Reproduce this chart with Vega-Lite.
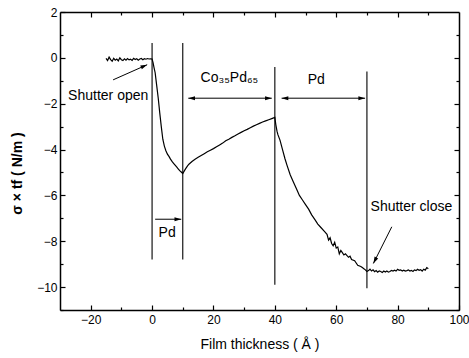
{
  "$schema": "https://vega.github.io/schema/vega-lite/v6.json",
  "width": 399,
  "height": 298,
  "autosize": "none",
  "padding": {"left": 60, "top": 12, "right": 10, "bottom": 48},
  "background": "white",
  "config": {
    "view": {"stroke": null},
    "font": "Liberation Sans",
    "axis": {
      "grid": false,
      "domainColor": "black",
      "domainWidth": 1.5,
      "tickColor": "black",
      "tickWidth": 1.2,
      "labelColor": "black",
      "titleColor": "black",
      "labelFont": "Liberation Sans",
      "titleFont": "Liberation Sans",
      "labelFontSize": 12,
      "titleFontSize": 14,
      "titleFontWeight": "normal",
      "labelFlush": false,
      "labelOverlap": false,
      "labelBound": false
    }
  },
  "datasets": {
    "curve": [
      {"x": -15, "y": -0.02}, {"x": -14.5, "y": -0.12}, {"x": -14, "y": 0.03}, {"x": -13.5, "y": -0.08},
      {"x": -13, "y": -0.15}, {"x": -12.5, "y": -0.02}, {"x": -12, "y": -0.1}, {"x": -11.5, "y": -0.05},
      {"x": -11, "y": -0.13}, {"x": -10.5, "y": 0.0}, {"x": -10, "y": -0.08}, {"x": -9.5, "y": -0.12},
      {"x": -9, "y": -0.04}, {"x": -8.5, "y": -0.1}, {"x": -8, "y": -0.03}, {"x": -7.5, "y": -0.09},
      {"x": -7, "y": -0.06}, {"x": -6.5, "y": -0.11}, {"x": -6, "y": -0.02}, {"x": -5.5, "y": -0.07},
      {"x": -5, "y": -0.04}, {"x": -4.5, "y": -0.1}, {"x": -4, "y": -0.05}, {"x": -3.5, "y": -0.03},
      {"x": -3, "y": -0.08}, {"x": -2.5, "y": -0.04}, {"x": -2, "y": -0.06}, {"x": -1.5, "y": -0.03},
      {"x": -1, "y": -0.05}, {"x": -0.5, "y": -0.04}, {"x": 0, "y": -0.05},
      {"x": 0.3, "y": -0.2}, {"x": 0.6, "y": -0.4}, {"x": 1, "y": -0.65}, {"x": 1.5, "y": -1.2},
      {"x": 2, "y": -1.75}, {"x": 2.5, "y": -2.4}, {"x": 3, "y": -3.0}, {"x": 3.5, "y": -3.55},
      {"x": 4, "y": -3.85}, {"x": 4.5, "y": -4.05}, {"x": 5, "y": -4.2}, {"x": 5.5, "y": -4.3},
      {"x": 6, "y": -4.42}, {"x": 6.5, "y": -4.52}, {"x": 7, "y": -4.6}, {"x": 7.5, "y": -4.68},
      {"x": 8, "y": -4.76}, {"x": 8.5, "y": -4.84}, {"x": 9, "y": -4.92}, {"x": 9.5, "y": -4.98},
      {"x": 10, "y": -5.05}, {"x": 10.5, "y": -4.93}, {"x": 11, "y": -4.82}, {"x": 11.5, "y": -4.72},
      {"x": 12, "y": -4.64}, {"x": 13, "y": -4.52}, {"x": 14, "y": -4.42}, {"x": 15, "y": -4.34},
      {"x": 16, "y": -4.26}, {"x": 17, "y": -4.18}, {"x": 18, "y": -4.1}, {"x": 19, "y": -4.03},
      {"x": 20, "y": -3.96}, {"x": 21, "y": -3.88}, {"x": 22, "y": -3.8}, {"x": 23, "y": -3.72},
      {"x": 24, "y": -3.62}, {"x": 25, "y": -3.55}, {"x": 26, "y": -3.47}, {"x": 27, "y": -3.4},
      {"x": 28, "y": -3.32}, {"x": 29, "y": -3.25}, {"x": 30, "y": -3.18}, {"x": 31, "y": -3.12},
      {"x": 32, "y": -3.05}, {"x": 33, "y": -2.98}, {"x": 34, "y": -2.92}, {"x": 35, "y": -2.86},
      {"x": 36, "y": -2.8}, {"x": 37, "y": -2.75}, {"x": 38, "y": -2.7}, {"x": 39, "y": -2.65},
      {"x": 40, "y": -2.6}, {"x": 40.3, "y": -2.9}, {"x": 40.7, "y": -3.2}, {"x": 41, "y": -3.35},
      {"x": 41.7, "y": -3.6}, {"x": 42.5, "y": -4.0}, {"x": 43.3, "y": -4.4}, {"x": 44, "y": -4.7},
      {"x": 45, "y": -5.1}, {"x": 46, "y": -5.4}, {"x": 47, "y": -5.7}, {"x": 48, "y": -6.0},
      {"x": 49, "y": -6.2}, {"x": 50, "y": -6.4}, {"x": 51, "y": -6.6}, {"x": 52, "y": -6.85},
      {"x": 53, "y": -7.05}, {"x": 54, "y": -7.25}, {"x": 55, "y": -7.4}, {"x": 56, "y": -7.55},
      {"x": 57, "y": -7.7}, {"x": 57.5, "y": -7.95}, {"x": 58, "y": -7.85}, {"x": 58.5, "y": -8.1},
      {"x": 59, "y": -8.2}, {"x": 59.5, "y": -8.05}, {"x": 60, "y": -8.3}, {"x": 60.5, "y": -8.25},
      {"x": 61, "y": -8.55}, {"x": 61.5, "y": -8.4}, {"x": 62, "y": -8.5}, {"x": 62.5, "y": -8.6},
      {"x": 63, "y": -8.55}, {"x": 64, "y": -8.7}, {"x": 64.5, "y": -8.65}, {"x": 65, "y": -8.8},
      {"x": 66, "y": -8.85}, {"x": 66.5, "y": -8.95}, {"x": 67, "y": -9.05}, {"x": 68, "y": -9.1},
      {"x": 68.5, "y": -9.15}, {"x": 69, "y": -9.2}, {"x": 69.5, "y": -9.25}, {"x": 70, "y": -9.32},
      {"x": 70.5, "y": -9.28}, {"x": 71, "y": -9.22}, {"x": 71.5, "y": -9.3}, {"x": 72, "y": -9.25},
      {"x": 72.5, "y": -9.33}, {"x": 73, "y": -9.28}, {"x": 73.5, "y": -9.35}, {"x": 74, "y": -9.3},
      {"x": 74.5, "y": -9.32}, {"x": 75, "y": -9.36}, {"x": 75.5, "y": -9.3}, {"x": 76, "y": -9.34},
      {"x": 76.5, "y": -9.3}, {"x": 77, "y": -9.35}, {"x": 77.5, "y": -9.32}, {"x": 78, "y": -9.27},
      {"x": 78.5, "y": -9.3}, {"x": 79, "y": -9.26}, {"x": 79.5, "y": -9.3}, {"x": 80, "y": -9.22},
      {"x": 80.5, "y": -9.27}, {"x": 81, "y": -9.25}, {"x": 81.5, "y": -9.3}, {"x": 82, "y": -9.26},
      {"x": 82.5, "y": -9.3}, {"x": 83, "y": -9.28}, {"x": 83.5, "y": -9.25}, {"x": 84, "y": -9.3},
      {"x": 84.5, "y": -9.27}, {"x": 85, "y": -9.32}, {"x": 85.5, "y": -9.25}, {"x": 86, "y": -9.28},
      {"x": 86.5, "y": -9.22}, {"x": 87, "y": -9.27}, {"x": 87.5, "y": -9.24}, {"x": 88, "y": -9.3},
      {"x": 88.5, "y": -9.22}, {"x": 89, "y": -9.26}, {"x": 89.5, "y": -9.15}, {"x": 90, "y": -9.2}
    ],
    "vlines": [
      {"x": 0, "top": 0.65, "bottom": -8.8},
      {"x": 10, "top": 0.65, "bottom": -8.8},
      {"x": 40, "top": -0.4, "bottom": -9.9},
      {"x": 70, "top": -0.6, "bottom": -10.05}
    ],
    "hArrows": [
      {"x1": 11.8, "x2": 39, "y": -1.76, "both": true},
      {"x1": 42.2, "x2": 69.4, "y": -1.76, "both": true},
      {"x1": 1, "x2": 9.5, "y": -7.04, "both": false}
    ],
    "dArrows": [
      {"name": "open", "x1": -12.7, "y1": -0.96, "x2": -1.6, "y2": -0.3},
      {"name": "close", "x1": 78.1, "y1": -7.37, "x2": 72.1, "y2": -8.97}
    ],
    "labels": [
      {"label": "Shutter open", "x": -14.3, "y": -1.66},
      {"label": "Shutter close", "x": 84.5, "y": -6.5},
      {"label": "Co₃₅Pd₆₅", "x": 25.2, "y": -0.88},
      {"label": "Pd", "x": 53.5, "y": -0.96},
      {"label": "Pd", "x": 4.9, "y": -7.64}
    ]
  },
  "layer": [
    {
      "data": {"name": "curve"},
      "mark": {"type": "line", "color": "black", "strokeWidth": 1.2},
      "encoding": {
        "x": {
          "field": "x", "type": "quantitative",
          "scale": {"domain": [-30, 100], "nice": false, "zero": false},
          "axis": {"orient": "bottom", "values": [-20, 0, 20, 40, 60, 80, 100], "tickSize": -5, "labelPadding": 9, "title": "Film thickness ( Å )", "titlePadding": 12}
        },
        "y": {
          "field": "y", "type": "quantitative",
          "scale": {"domain": [-11, 2], "nice": false, "zero": false},
          "axis": {"orient": "left", "values": [-10, -8, -6, -4, -2, 0, 2], "tickSize": -5, "labelPadding": 8, "title": "σ × tf ( N/m )", "titleFontWeight": "bold", "titleX": -43, "titleY": 161, "titleBaseline": "middle"}
        }
      }
    },
    {
      "data": {"name": "vlines"},
      "mark": {"type": "rule", "color": "black", "strokeWidth": 1.1},
      "encoding": {
        "x": {
          "field": "x", "type": "quantitative",
          "scale": {"domain": [-30, 100], "nice": false, "zero": false},
          "axis": {"orient": "top", "values": [-20, 0, 20, 40, 60, 80], "tickSize": -5, "labels": false, "title": null}
        },
        "y": {
          "field": "top", "type": "quantitative",
          "scale": {"domain": [-11, 2], "nice": false, "zero": false},
          "axis": {"orient": "right", "values": [-10, -8, -6, -4, -2, 0], "tickSize": -5, "labels": false, "title": null}
        },
        "y2": {"field": "bottom"}
      }
    },
    {
      "data": {"name": "hArrows"},
      "mark": {"type": "rule", "color": "black", "strokeWidth": 1},
      "encoding": {
        "x": {
          "field": "x1", "type": "quantitative",
          "scale": {"domain": [-30, 100], "nice": false, "zero": false},
          "axis": {"orient": "bottom", "values": [-10, 10, 30, 50, 70, 90], "tickSize": -3, "labels": false, "domain": false, "title": null}
        },
        "x2": {"field": "x2"},
        "y": {
          "field": "y", "type": "quantitative",
          "scale": {"domain": [-11, 2], "nice": false, "zero": false},
          "axis": {"orient": "left", "values": [-11, -9, -7, -5, -3, -1, 1], "tickSize": -3, "labels": false, "domain": false, "title": null}
        }
      }
    },
    {
      "data": {"name": "dArrows"},
      "mark": {"type": "rule", "color": "black", "strokeWidth": 1},
      "encoding": {
        "x": {
          "field": "x1", "type": "quantitative",
          "scale": {"domain": [-30, 100], "nice": false, "zero": false},
          "axis": {"orient": "top", "values": [-10, 10, 30, 50, 70, 90], "tickSize": -3, "labels": false, "domain": false, "title": null}
        },
        "x2": {"field": "x2"},
        "y": {
          "field": "y1", "type": "quantitative",
          "scale": {"domain": [-11, 2], "nice": false, "zero": false},
          "axis": {"orient": "right", "values": [-11, -9, -7, -5, -3, -1, 1], "tickSize": -3, "labels": false, "domain": false, "title": null}
        },
        "y2": {"field": "y2"}
      }
    },
    {
      "data": {"name": "hArrows"},
      "mark": {"type": "point", "shape": "M0,0L-1,-0.3L-1,0.3Z", "filled": true, "color": "black", "opacity": 1, "size": 180, "angle": 0},
      "encoding": {
        "x": {"field": "x2", "type": "quantitative", "axis": null},
        "y": {"field": "y", "type": "quantitative", "axis": null}
      }
    },
    {
      "data": {"name": "hArrows"},
      "transform": [{"filter": "datum.both"}],
      "mark": {"type": "point", "shape": "M0,0L-1,-0.3L-1,0.3Z", "filled": true, "color": "black", "opacity": 1, "size": 180, "angle": 180},
      "encoding": {
        "x": {"field": "x1", "type": "quantitative", "axis": null},
        "y": {"field": "y", "type": "quantitative", "axis": null}
      }
    },
    {
      "data": {"name": "dArrows"},
      "transform": [{"filter": "datum.name == 'open'"}],
      "mark": {"type": "point", "shape": "M0,0L-1,-0.3L-1,0.3Z", "filled": true, "color": "black", "opacity": 1, "size": 180, "angle": 336},
      "encoding": {
        "x": {"field": "x2", "type": "quantitative", "axis": null},
        "y": {"field": "y2", "type": "quantitative", "axis": null}
      }
    },
    {
      "data": {"name": "dArrows"},
      "transform": [{"filter": "datum.name == 'close'"}],
      "mark": {"type": "point", "shape": "M0,0L-1,-0.3L-1,0.3Z", "filled": true, "color": "black", "opacity": 1, "size": 180, "angle": 116.7},
      "encoding": {
        "x": {"field": "x2", "type": "quantitative", "axis": null},
        "y": {"field": "y2", "type": "quantitative", "axis": null}
      }
    },
    {
      "data": {"name": "labels"},
      "mark": {"type": "text", "font": "Liberation Sans", "fontSize": 14, "color": "black", "align": "center", "baseline": "middle"},
      "encoding": {
        "x": {"field": "x", "type": "quantitative", "axis": null},
        "y": {"field": "y", "type": "quantitative", "axis": null},
        "text": {"field": "label"}
      }
    }
  ],
  "resolve": {"axis": {"x": "independent", "y": "independent"}}
}
